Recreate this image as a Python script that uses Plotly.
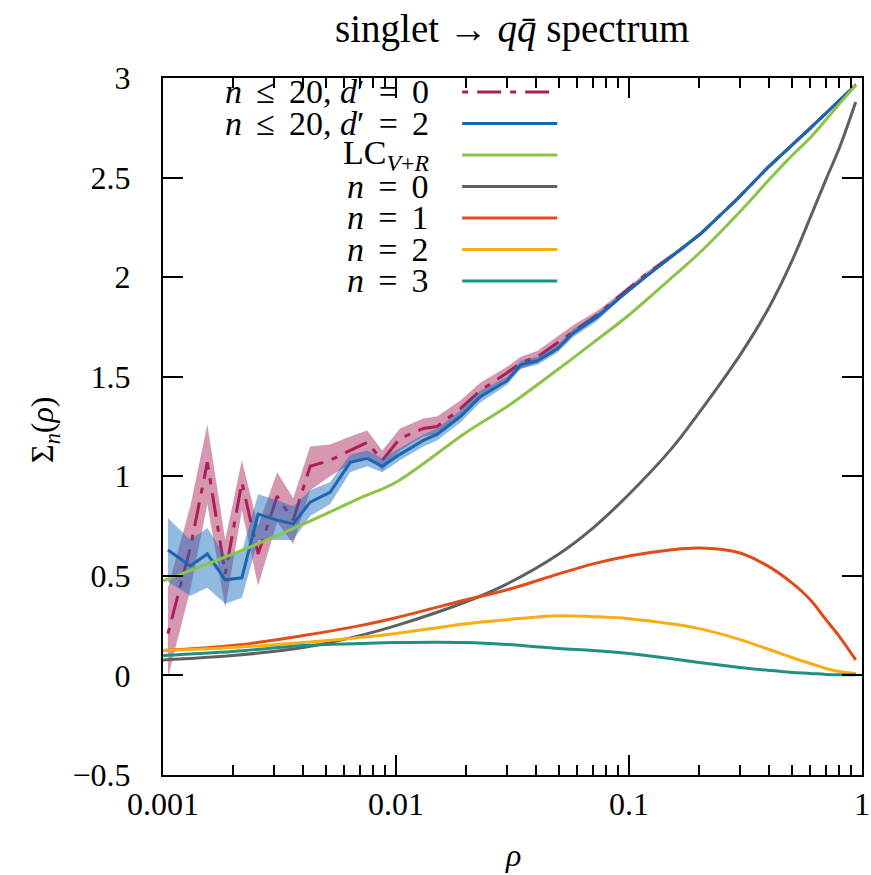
import plotly.graph_objects as go

# ---- Monte Carlo (noisy) results ----
rho_mc = [0.00105, 0.00131, 0.00155, 0.00185, 0.00218, 0.00256, 0.00309, 0.00362,
          0.00428, 0.00521, 0.00636, 0.00752, 0.00873, 0.0104, 0.0131, 0.0150,
          0.0189, 0.0230, 0.0300, 0.0343, 0.0405, 0.0493, 0.0577, 0.0730,
          0.0920, 0.120, 0.167, 0.204, 0.290, 0.394, 0.602, 0.940]

d0_mid = [0.21, 0.64, 1.07, 0.51, 0.97, 0.61, 0.90, 0.78, 1.05, 1.08, 1.13, 1.17,
          1.08, 1.19, 1.24, 1.25, 1.34, 1.43, 1.52, 1.57, 1.60, 1.67, 1.73, 1.81,
          1.91, 2.02, 2.14, 2.22, 2.39, 2.55, 2.75, 2.965]
d0_lo = [-0.01, 0.43, 0.86, 0.34, 0.83, 0.45, 0.77, 0.66, 0.93, 1.00, 1.06, 1.10,
         1.03, 1.13, 1.20, 1.21, 1.30, 1.39, 1.49, 1.54, 1.57, 1.64, 1.71, 1.79,
         1.89, 2.00, 2.13, 2.21, 2.38, 2.54, 2.74, 2.955]
d0_hi = [0.44, 0.85, 1.26, 0.68, 1.08, 0.75, 1.02, 0.89, 1.15, 1.16, 1.20, 1.23,
         1.13, 1.24, 1.29, 1.30, 1.38, 1.47, 1.55, 1.60, 1.63, 1.70, 1.76, 1.83,
         1.92, 2.03, 2.15, 2.23, 2.40, 2.56, 2.76, 2.975]

d2_mid = [0.63, 0.55, 0.61, 0.48, 0.49, 0.81, 0.78, 0.76, 0.87, 0.92, 1.07, 1.09,
          1.05, 1.11, 1.18, 1.21, 1.30, 1.40, 1.48, 1.56, 1.58, 1.64, 1.72, 1.80,
          1.90, 2.01, 2.14, 2.22, 2.39, 2.55, 2.75, 2.965]
d2_lo = [0.47, 0.40, 0.44, 0.36, 0.39, 0.68, 0.68, 0.68, 0.80, 0.86, 1.02, 1.05,
         1.02, 1.08, 1.15, 1.18, 1.27, 1.37, 1.46, 1.54, 1.56, 1.62, 1.70, 1.78,
         1.89, 2.00, 2.13, 2.21, 2.38, 2.54, 2.74, 2.955]
d2_hi = [0.79, 0.68, 0.74, 0.60, 0.62, 0.91, 0.88, 0.85, 0.93, 0.97, 1.11, 1.13,
         1.09, 1.14, 1.21, 1.24, 1.33, 1.43, 1.50, 1.58, 1.60, 1.66, 1.74, 1.82,
         1.91, 2.02, 2.15, 2.23, 2.40, 2.56, 2.76, 2.975]

# ---- smooth curves ----
rho_s = [0.001, 0.002, 0.004, 0.007, 0.01, 0.02, 0.03, 0.05, 0.07, 0.1, 0.15,
         0.2, 0.3, 0.4, 0.5, 0.6, 0.7, 0.8, 0.94]
lc_vr = [0.475, 0.61, 0.76, 0.89, 0.97, 1.22, 1.35, 1.54, 1.67, 1.81, 1.99,
         2.12, 2.33, 2.49, 2.61, 2.70, 2.79, 2.87, 2.965]
n0 = [0.078, 0.10, 0.14, 0.20, 0.25, 0.37, 0.46, 0.61, 0.74, 0.91, 1.13,
      1.32, 1.61, 1.85, 2.08, 2.30, 2.49, 2.65, 2.88]
n1 = [0.125, 0.15, 0.20, 0.25, 0.29, 0.38, 0.43, 0.51, 0.56, 0.60, 0.63,
      0.64, 0.615, 0.545, 0.465, 0.38, 0.28, 0.195, 0.078]
n2 = [0.125, 0.14, 0.165, 0.19, 0.21, 0.26, 0.28, 0.30, 0.295, 0.285, 0.26,
      0.235, 0.18, 0.13, 0.09, 0.06, 0.035, 0.02, 0.01]
n3 = [0.10, 0.12, 0.15, 0.16, 0.165, 0.165, 0.155, 0.135, 0.125, 0.11, 0.085,
      0.065, 0.04, 0.025, 0.015, 0.01, 0.005, 0.003, 0.003]

SP = "\u2004\u200a"  # math-style spacing around relations
labels = [f"<i>n</i>{SP}≤{SP}20, <i>d</i>′{SP}={SP}0",
          f"<i>n</i>{SP}≤{SP}20, <i>d</i>′{SP}={SP}2",
          "LC<sub><i>V</i>+<i>R</i></sub>",
          f"<i>n</i>{SP}={SP}0", f"<i>n</i>{SP}={SP}1",
          f"<i>n</i>{SP}={SP}2", f"<i>n</i>{SP}={SP}3"]
colors = ["#ac1f55", "#1a67b0", "#8cc447", "#606060", "#e04c1c", "#f8ad14", "#1f9180"]
dashes = ["6px,9px,24px,9px", "solid", "solid", "solid", "solid", "solid", "solid"]

x_ticks = [0.001, 0.01, 0.1, 1]
x_ticktext = ["0.001", "0.01", "0.1", "1"]
y_ticks = [-0.5, 0, 0.5, 1, 1.5, 2, 2.5, 3]
y_ticktext = ["−0.5", "0", "0.5", "1", "1.5", "2", "2.5", "3"]

FONT = "Liberation Serif"
FS = 32
LW = 3

fig = go.Figure()

def band(x, lo, hi, rgba):
    fig.add_trace(go.Scatter(x=x, y=lo, mode="lines", line=dict(width=0),
                             showlegend=False, hoverinfo="skip"))
    fig.add_trace(go.Scatter(x=x, y=hi, mode="lines", line=dict(width=0),
                             fill="tonexty", fillcolor=rgba, showlegend=False,
                             hoverinfo="skip"))

band(rho_mc, d0_lo, d0_hi, "rgba(165,25,80,0.45)")
fig.add_trace(go.Scatter(x=rho_mc, y=d0_mid, mode="lines",
                         line=dict(color=colors[0], width=LW, dash=dashes[0]),
                         showlegend=False))
band(rho_mc, d2_lo, d2_hi, "rgba(25,110,190,0.48)")
fig.add_trace(go.Scatter(x=rho_mc, y=d2_mid, mode="lines",
                         line=dict(color=colors[1], width=LW), showlegend=False))

for ys, c in zip([lc_vr, n0, n1, n2, n3], colors[2:]):
    fig.add_trace(go.Scatter(x=rho_s, y=ys, mode="lines", line_shape="spline",
                             line=dict(color=c, width=LW), showlegend=False))

# manual key (text left of the sample line, as in the original)
row_y = [0.980 - 0.0452 * i for i in range(len(labels))]
for lab, c, d, yy in zip(labels, colors, dashes, row_y):
    fig.add_annotation(xref="paper", yref="paper", x=0.383, y=yy, text=lab,
                       showarrow=False, xanchor="right", yanchor="middle",
                       font=dict(family=FONT, size=34, color="black"))
    fig.add_shape(type="line", xref="paper", yref="paper", x0=0.428, x1=0.564,
                  y0=yy, y1=yy, line=dict(color=c, width=LW, dash=d))

axis_common = dict(showline=True, linecolor="black", linewidth=2, mirror="allticks",
                   ticks="inside", tickcolor="black", tickwidth=2, ticklen=20,
                   showgrid=False, zeroline=False, automargin=False,
                   tickfont=dict(family=FONT, size=FS, color="black"))

fig.update_xaxes(type="log", range=[-3, 0], tickvals=x_ticks, ticktext=x_ticktext,
                 ticklabelstandoff=0,
                 minor=dict(ticks="inside", ticklen=10, tickcolor="black", tickwidth=1.5,
                            dtick="D1", showgrid=False),
                 **axis_common)
fig.update_yaxes(range=[-0.5, 3], tickvals=y_ticks, ticktext=y_ticktext,
                 ticklabelstandoff=24, **axis_common)

# axis titles
fig.add_annotation(xref="paper", yref="paper", x=0.5, y=-0.1148, text="<i>ρ</i>",
                   showarrow=False, xanchor="center", yanchor="middle",
                   font=dict(family=FONT, size=FS, color="black"))
fig.add_annotation(xref="paper", yref="paper", x=-0.1688, y=0.495,
                   text="Σ<sub><i>n</i></sub>(<i>ρ</i>)", textangle=-90,
                   showarrow=False, xanchor="center", yanchor="middle",
                   font=dict(family=FONT, size=FS, color="black"))

fig.update_layout(
    width=871, height=875,
    margin=dict(l=163, r=9, t=78, b=100),
    paper_bgcolor="white", plot_bgcolor="white",
    title=dict(text="singlet → <i>q</i><i>q̄</i> spectrum", x=0.588, xanchor="center",
               y=0.968, yanchor="middle",
               font=dict(family=FONT, size=39, color="black")),
    showlegend=False,
)

fig.write_html("out.html", config={"displayModeBar": False},
               post_script="document.body.style.margin='0';"
                           "document.body.style.overflow='hidden';")
